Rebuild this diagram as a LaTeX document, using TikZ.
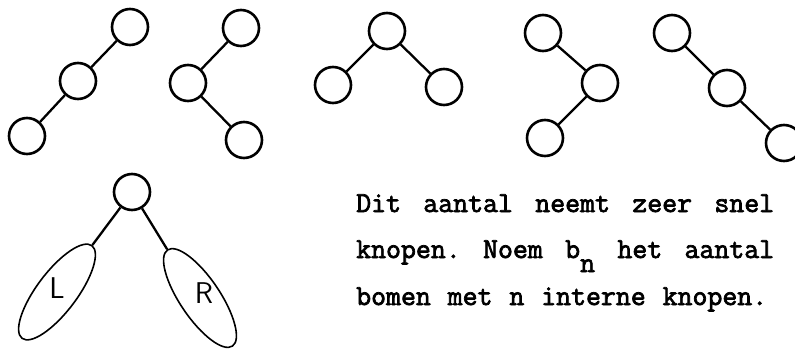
\documentclass[tikz,border=0pt]{standalone}
\usepackage{fontspec}
\setmonofont[AutoFakeBold=2.5]{Latin Modern Mono}
\usetikzlibrary{shapes.geometric}

\tikzset{
  knoop/.style={circle,draw,line width=2.6pt,minimum size=36pt,inner sep=0pt},
  tak/.style={line width=2.3pt},
  deelboom/.style={ellipse,draw,line width=1.6pt,minimum width=116pt,minimum height=40pt,inner sep=0pt},
  hand/.style={font=\sffamily\fontsize{30}{30}\selectfont},
  regel/.style={anchor=base west,inner sep=0pt,font=\ttfamily\bfseries\fontsize{29}{46}\selectfont}
}

\begin{document}
\begin{tikzpicture}[x=1pt,y=-1pt]
        \useasboundingbox (0,0) rectangle (795,348);
        % vijf bomen met drie knopen
        \node[knoop] (a1) at (130,27) {};
        \node[knoop] (a2) at (78,81) {};
        \node[knoop] (a3) at (27,136) {};
        \node[knoop] (b1) at (241,28) {};
        \node[knoop] (b2) at (188,83) {};
        \node[knoop] (b3) at (244,140) {};
        \node[knoop] (c1) at (387,31) {};
        \node[knoop] (c2) at (333,85) {};
        \node[knoop] (c3) at (444,87) {};
        \node[knoop] (d1) at (543,33) {};
        \node[knoop] (d2) at (600,83) {};
        \node[knoop] (d3) at (545,138) {};
        \node[knoop] (e1) at (672,33) {};
        \node[knoop] (e2) at (727,88) {};
        \node[knoop] (e3) at (784,143) {};
        \draw[tak] (a1) -- (a2);
        \draw[tak] (a2) -- (a3);
        \draw[tak] (b1) -- (b2);
        \draw[tak] (b2) -- (b3);
        \draw[tak] (c1) -- (c2);
        \draw[tak] (c1) -- (c3);
        \draw[tak] (d1) -- (d2);
        \draw[tak] (d2) -- (d3);
        \draw[tak] (e1) -- (e2);
        \draw[tak] (e2) -- (e3);
        % wortel met linker en rechter deelboom
        \node[knoop] (w) at (132,192) {};
        \node[deelboom,rotate=53] (L) at (57,292) {};
        \node[deelboom,rotate=-56] (R) at (200,298) {};
        \node[hand] (lL) at (57,288) {L};
        \node[hand] (lR) at (204,293) {R};
        \draw[tak] (w) -- (L.east);
        \draw[tak] (w) -- (R.west);
        % tekst
        \node[regel] (r1) at (356,212) {\hbox to 418pt{Dit\hfill aantal\hfill neemt\hfill zeer\hfill snel}};
        \node[regel] (r2) at (356,258) {\hbox to 418pt{knopen.\hfill Noem\hfill b\raisebox{-14pt}{n}\hfill het\hfill aantal}};
        \node[regel] (r3) at (356,305) {\hbox to 411pt{bomen\hfill met\hfill n\hfill interne\hfill knopen.}};
      \end{tikzpicture}
\end{document}
